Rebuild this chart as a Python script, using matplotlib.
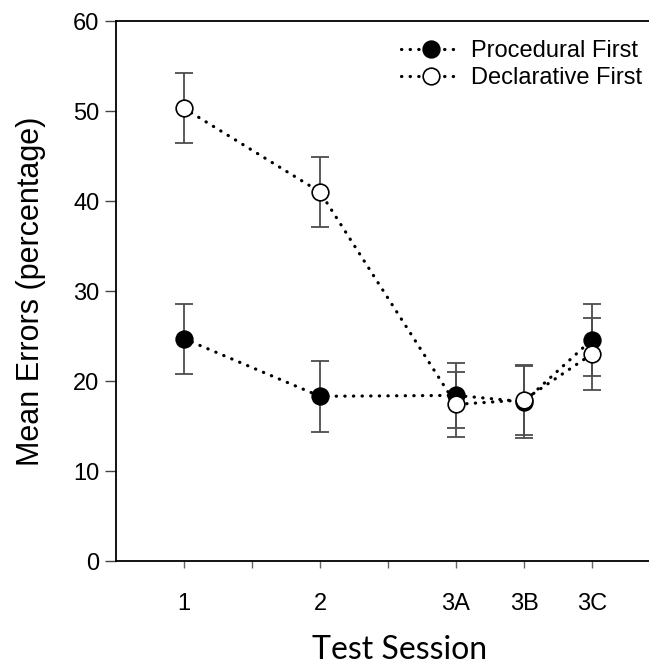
import matplotlib
matplotlib.use("Agg")
import matplotlib.pyplot as plt

# ---- data ----
sessions = ["1", "2", "3A", "3B", "3C"]
session_pos = [0, 2, 4, 5, 6]
tick_pos = [0, 1, 2, 3, 4, 5, 6]
tick_labels = ["1", "", "2", "", "3A", "3B", "3C"]

procedural = [24.7, 18.3, 18.4, 17.7, 24.6]
procedural_err = [3.9, 3.95, 3.65, 4.0, 4.0]
declarative = [50.3, 41.0, 17.4, 17.9, 23.0]
declarative_err = [3.9, 3.85, 3.65, 3.9, 4.0]

yticks = [0, 10, 20, 30, 40, 50, 60]

# ---- figure ----
plt.rcParams['font.family'] = ['Liberation Sans', 'DejaVu Sans']
fig = plt.figure(figsize=(6.49, 6.67), dpi=100)
W, H = 649, 667
left, right, top, bottom = 116, 660, 21, 561
ax = fig.add_axes([left / W, (H - bottom) / H, (right - left) / W, (bottom - top) / H])

dot_style = (0, (0.1, 2.6))
err_color = "#4d4d4d"

ax.errorbar(session_pos, procedural, yerr=procedural_err, fmt='none',
            ecolor=err_color, elinewidth=1.3, capsize=6.5, capthick=1.3, zorder=2)
ax.errorbar(session_pos, declarative, yerr=declarative_err, fmt='none',
            ecolor=err_color, elinewidth=1.3, capsize=6.5, capthick=1.3, zorder=2)

ax.plot(session_pos, procedural, color='black', linestyle=dot_style, lw=2.3,
        dash_capstyle='round', marker='o', markersize=12, markerfacecolor='black',
        markeredgecolor='black', markeredgewidth=1.2, zorder=3, label='Procedural First')
ax.plot(session_pos, declarative, color='black', linestyle=dot_style, lw=2.3,
        dash_capstyle='round', marker='o', markersize=12, markerfacecolor='white',
        markeredgecolor='black', markeredgewidth=1.2, zorder=4, label='Declarative First')

ax.set_xlim(-1, 7)
ax.set_ylim(0, 60)
ax.set_xticks(tick_pos)
ax.set_xticklabels(tick_labels)
ax.set_yticks(yticks)

ax.spines['right'].set_visible(False)
for s in ['left', 'bottom', 'top']:
    ax.spines[s].set_linewidth(1.3)
ax.tick_params(axis='x', direction='out', length=5, width=1.0, pad=18,
               labelsize=17, color='#666666')
ax.tick_params(axis='y', direction='out', length=8, width=1.0, pad=4,
               labelsize=17, color='#444444')

leg = fig.legend(loc='upper left', bbox_to_anchor=(401 / W, 1 - 40 / H),
                 frameon=False, fontsize=17, handlelength=2.5, handletextpad=0.45,
                 labelspacing=0.22, borderaxespad=0.0, borderpad=0.0)

fig.text(31 / W, 1 - 291 / H, "Mean Errors (percentage)", rotation=90,
         ha='center', va='center', fontsize=22)
fig.text(400 / W, 1 - 650 / H, "Test Session", ha='center', va='center',
         fontsize=23, family=['Lato', 'DejaVu Sans'])

fig.savefig("out.png", dpi=100)
